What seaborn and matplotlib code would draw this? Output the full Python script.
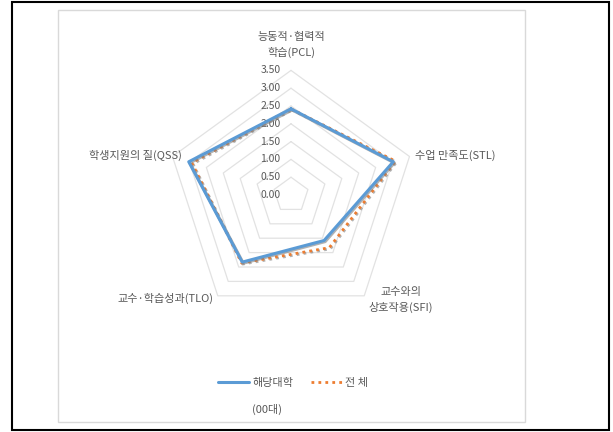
import numpy as np
import pandas as pd
import matplotlib
matplotlib.use('Agg')
import matplotlib.pyplot as plt
import matplotlib.patheffects as pe
from matplotlib.patches import Rectangle
import seaborn as sns

sns.set_style('white')
plt.rcParams['font.family'] = ['Noto Sans CJK KR', 'DejaVu Sans']

categories = ['능동적·협력적\n학습(PCL)', '수업 만족도(STL)', '교수와의\n상호작용(SFI)',
              '교수·학습성과(TLO)', '학생지원의 질(QSS)']
univ = [2.42, 3.02, 1.58, 2.33, 3.02]
total = [2.42, 3.08, 1.83, 2.36, 2.93]
ticks = [0.0, 0.5, 1.0, 1.5, 2.0, 2.5, 3.0, 3.5]

# label anchor pixels (x, y from top)
label_px = [(291, 45), (415, 155), (401, 300), (165, 298), (135, 155)]
label_ha = ['center', 'left', 'center', 'center', 'center']

W, H = 613, 432
cx, cy, unit = 291, 195, 35.6

fig = plt.figure(figsize=(W / 100, H / 100), dpi=100)
ax = fig.add_axes([0, 0, 1, 1])
ax.set_xlim(-cx / unit, (W - cx) / unit)
ax.set_ylim(-(H - cy) / unit, cy / unit)
ax.axis('off')

n = len(categories)
ang = np.arange(n) * 2 * np.pi / n


def to_xy(vals):
    v = np.array(list(vals) + [vals[0]])
    a = np.append(ang, ang[0])
    return pd.DataFrame({'x': v * np.sin(a), 'y': v * np.cos(a), 'i': np.arange(len(v))})


# grid rings
for t in ticks[1:]:
    g = to_xy([t] * n)
    ax.plot(g['x'], g['y'], color='#e2e2e2', lw=0.9, zorder=1)

for t in ticks:
    ax.text(-0.3, t, f'{t:.2f}', ha='right', va='center', fontsize=7.5, color='#595959')

shadow = [pe.SimpleLineShadow(offset=(0.8, -0.8), shadow_color='#7f7f7f', alpha=0.6), pe.Normal()]

d1 = to_xy(total)
sns.lineplot(data=d1, x='x', y='y', sort=False, estimator=None, ax=ax, color='#ed7d31',
             lw=2, linestyle=(0, (1, 1.5)), zorder=3, path_effects=shadow)
d0 = to_xy(univ)
sns.lineplot(data=d0, x='x', y='y', sort=False, estimator=None, ax=ax, color='#5b9bd5',
             lw=2.2, zorder=4, path_effects=shadow)

for lab, (px, py), ha in zip(categories, label_px, label_ha):
    ax.text((px - cx) / unit, (cy - py) / unit, lab, ha=ha, va='center', fontsize=8,
            color='#595959', linespacing=1.6)

# legend
ax.plot([], [], color='#5b9bd5', lw=2.2, label='해당대학')
ax.plot([], [], color='#ed7d31', lw=2, linestyle=(0, (1, 1.5)), label='전 체')
h, l = ax.get_legend_handles_labels()
leg = ax.legend(h[-2:], l[-2:], ncol=2, frameon=False, fontsize=8, handlelength=2.8,
                columnspacing=1.6, handletextpad=0.3, loc='center',
                bbox_to_anchor=(293 / W, 1 - 383 / H))
for t in leg.get_texts():
    t.set_color('#595959')
ax.text((267 - cx) / unit, (cy - 409) / unit, '(00대)', ha='center', va='center',
        fontsize=8, color='#595959')

# frames
fig.patches.append(Rectangle((58 / W, 1 - 422 / H), 467 / W, 412 / H, transform=fig.transFigure,
                             fill=False, ec='#d9d9d9', lw=1))
fig.patches.append(Rectangle((12 / W, 1 - 430 / H), 597 / W, 428 / H, transform=fig.transFigure,
                             fill=False, ec='black', lw=1.5))

plt.savefig('out.png', dpi=100)
